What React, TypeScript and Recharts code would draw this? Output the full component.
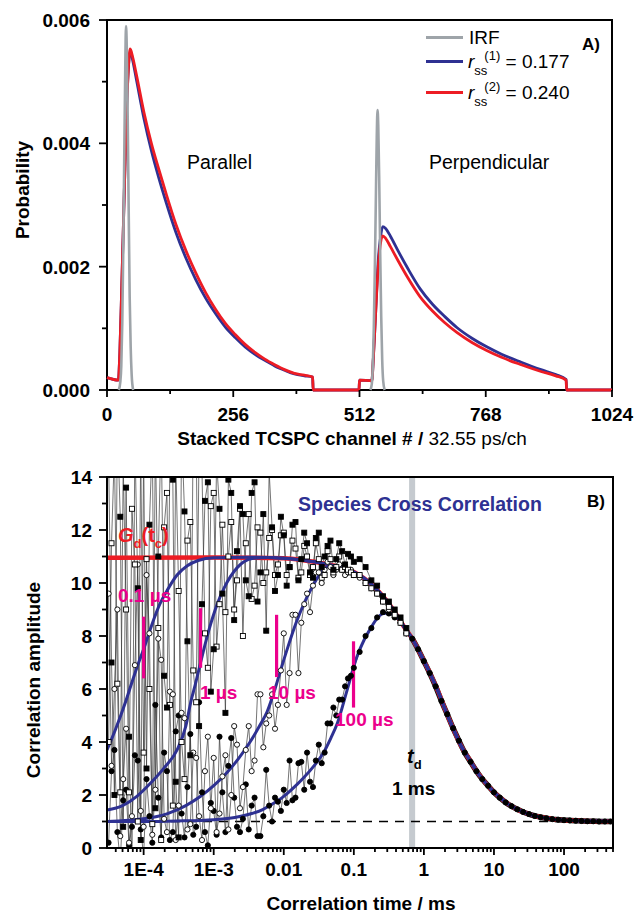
import React from 'react';
import { LineChart, Line, XAxis, YAxis, ReferenceLine, ReferenceArea } from 'recharts';

const FONT = 'Arial, "Liberation Sans", Helvetica, sans-serif';
const BLUE = '#2e3192';
const RED = '#ed1c24';
const GRAY = '#9ea4a9';
const MAGENTA = '#ec008c';

// ---------- Panel A: TCSPC decays ----------
const aXMajor = [0, 256, 512, 768, 1024];
const aXMinor = [128, 384, 640, 896];
const aXLabels = ['0', '256', '512', '768', '1024'];
const aYMajor = [0, 0.002, 0.004, 0.006];
const aYMinor = [0.001, 0.003, 0.005];
const aYLabels = ['0.000', '0.002', '0.004', '0.006'];

const irfParCh = [24, 27, 29, 31, 33, 35, 37, 38.5, 40, 42, 44, 46, 48, 50, 53];
const irfParP = [0, 0.00013, 0.0004, 0.0011, 0.0023, 0.0038, 0.0052, 0.0059, 0.0056, 0.0044, 0.0029, 0.0015, 0.0007, 0.00025, 0];
const irfPerpCh = [534, 537, 539, 541, 543, 545, 547, 548.5, 550, 552, 554, 556, 558, 560, 563];
const irfPerpP = [0, 0.0001, 0.0004, 0.001, 0.0019, 0.003, 0.0041, 0.00454, 0.0043, 0.0034, 0.0022, 0.0012, 0.0005, 0.00015, 0];

const decayCh = [0, 23, 26, 30, 35, 40, 44, 47, 52, 60, 75, 90, 105, 120, 140, 160, 180, 200, 220, 240,
  260, 280, 300, 320, 340, 360, 380, 400, 417, 418, 511, 512, 537, 540, 545, 550, 555, 559, 565, 575,
  590, 610, 635, 660, 685, 710, 740, 770, 800, 840, 880, 910, 931, 932, 1024];
const redP = [0.0002, 0.00016, 0.0006, 0.0017, 0.0032, 0.0046, 0.0053, 0.00553, 0.0054, 0.0051,
  0.0045, 0.004, 0.00358, 0.00318, 0.00268, 0.00226, 0.0019, 0.00158, 0.00131, 0.00108,
  0.0009, 0.00074, 0.00061, 0.0005, 0.00041, 0.00033, 0.00027, 0.00024, 0.00021, 0,
  0, 0.00016, 0.00015, 0.0005, 0.0013, 0.002, 0.0024, 0.0025, 0.00246, 0.00232,
  0.0021, 0.00182, 0.00151, 0.00128, 0.00109, 0.00093, 0.00077, 0.00064, 0.00053, 0.00041,
  0.0003, 0.00023, 0.00016, 0, 0];
const blueP = [0.0002, 0.00016, 0.0006, 0.0017, 0.0032, 0.0046, 0.0053, 0.0055, 0.00535, 0.00502,
  0.0044, 0.00388, 0.00344, 0.00304, 0.00255, 0.00214, 0.00179, 0.00149, 0.00124, 0.00102,
  0.00085, 0.0007, 0.00058, 0.00048, 0.00039, 0.00032, 0.00026, 0.00023, 0.00021, 0,
  0, 0.00016, 0.00015, 0.0005, 0.0013, 0.0021, 0.0025, 0.00265, 0.00262, 0.00249,
  0.00226, 0.00197, 0.00164, 0.00139, 0.00119, 0.00101, 0.00084, 0.0007, 0.00058, 0.00045,
  0.00033, 0.00025, 0.00017, 0, 0];

// ---------- Panel B: correlation curves ----------
const bXMajor = [1e-4, 1e-3, 0.01, 0.1, 1, 10, 100];
const bXLabels = ['1E-4', '1E-3', '0.01', '0.1', '1', '10', '100'];
const bXMinor = [4e-5, 5e-5, 6e-5, 7e-5, 8e-5, 9e-5,
  2e-4, 3e-4, 4e-4, 5e-4, 6e-4, 7e-4, 8e-4, 9e-4,
  2e-3, 3e-3, 4e-3, 5e-3, 6e-3, 7e-3, 8e-3, 9e-3,
  0.02, 0.03, 0.04, 0.05, 0.06, 0.07, 0.08, 0.09,
  0.2, 0.3, 0.4, 0.5, 0.6, 0.7, 0.8, 0.9,
  2, 3, 4, 5, 6, 7, 8, 9,
  20, 30, 40, 50, 60, 70, 80, 90,
  200, 300, 400, 500];
const bYMajor = [0, 2, 4, 6, 8, 10, 12, 14];
const bYMinor = [1, 3, 5, 7, 9, 11, 13];
const bYLabels = ['0', '2', '4', '6', '8', '10', '12', '14'];

// lag times (ms) of the measured correlation points
const lag = [
  3.16e-5, 3.48e-5, 3.83e-5, 4.22e-5, 4.64e-5, 5.11e-5, 5.62e-5, 6.19e-5, 6.81e-5, 7.5e-5, 8.25e-5, 9.09e-5,
  1e-4, 1.1e-4, 1.21e-4, 1.33e-4, 1.47e-4, 1.62e-4, 1.78e-4, 1.96e-4, 2.15e-4, 2.37e-4, 2.61e-4, 2.87e-4,
  3.16e-4, 3.48e-4, 3.83e-4, 4.22e-4, 4.64e-4, 5.11e-4, 5.62e-4, 6.19e-4, 6.81e-4, 7.5e-4, 8.25e-4, 9.09e-4,
  1e-3, 1.1e-3, 1.21e-3, 1.33e-3, 1.47e-3, 1.62e-3, 1.78e-3, 1.96e-3, 2.15e-3, 2.37e-3, 2.61e-3, 2.87e-3,
  3.16e-3, 3.48e-3, 3.83e-3, 4.22e-3, 4.64e-3, 5.11e-3, 5.62e-3, 6.19e-3, 6.81e-3, 7.5e-3, 8.25e-3, 9.09e-3,
  0.01, 0.011, 0.0121, 0.0133, 0.0147, 0.0162, 0.0178, 0.0196, 0.0215, 0.0237, 0.0261, 0.0287,
  0.0316, 0.0348, 0.0383, 0.0422, 0.0464, 0.0511, 0.0562, 0.0619, 0.0681, 0.075, 0.0825, 0.0909,
  0.1, 0.121, 0.147, 0.178, 0.215, 0.261, 0.316, 0.383, 0.464, 0.562];
const gFilledSq = [
  14.8, 7.0, 2.0, 16, 12.5, 0.8, 13.6, 4.2, -1, 15.5, 9.8, 0.3,
  15, 3.0, 12.2, 15.5, 1.5, 11.0, 16, 6.5, 5.3, 14.5, 13.9, 2.5,
  0.4, 15.8, 12.7, 7.8, 3.5, 16.2, 15.5, 4.6, 9.2, 13.1, 13.8, 5.9,
  7.5, 14.6, 12.8, 9.6, 5.1, 13.9, 13.4, 8.6, 11.2, 12.9, 12.6, 10.1,
  9.5, 13.4, 13.8, 9.3, 10.4, 12.6, 8.2, 14.2, 12.1, 9.7, 10.3, 12.5,
  11.8, 9.9, 10.6, 12.2, 12.3, 10.1, 10.9, 11.9, 11.5, 10.4, 10.2, 11.7,
  11.9, 10.6, 11.0, 11.4, 11.6, 10.5, 10.9, 11.5, 11.2, 10.7, 11.1, 11.0,
  10.8, 10.9, 10.6, 10.1, 9.9, 9.5, 9.3, 9.0, 8.7, 8.3];
const gOpenSq = [
  4.0, 11.5, 15, 6.2, 2.1, 14.5, 9.0, 2.1, 12.8, 10.7, 1.0, 15.2,
  3.6, 10.9, 6.0, 0.9, 15.5, 8.3, 0.3, 12.1, 13.4, 5.4, 1.6, 14.8,
  9.7, 4.0, 2.6, 11.6, 12.3, 6.7, 5.5, 15.1, 14.2, 8.1, 6.8, 12.9,
  13.4, 7.6, 9.2, 12.2, 8.9, 11.0, 12.3, 9.0, 10.1, 12.8, 8.0, 11.5,
  12.6, 9.4, 9.9, 12.1, 11.9, 10.0, 10.4, 11.7, 12.0, 10.3, 10.7, 11.8,
  11.9, 10.3, 10.6, 11.6, 11.3, 10.2, 10.4, 11.4, 11.0, 10.3, 10.6, 11.5,
  10.9, 10.2, 10.3, 11.2, 10.9, 10.4, 10.6, 11.0, 10.5, 10.6, 10.5, 10.4,
  10.3, 10.3, 10.0, 9.8, 9.6, 9.3, 9.1, 8.8, 8.5, 8.1];
const gOpenCirc = [
  9.6, 3.1, 6.0, 9.0, 0.45, 2.6, 4.5, 0.2, 1.2, 6.9, 10.7, 1.4,
  0.8, 10.3, 8.1, 0.5, 2.2, 7.9, 7.1, 1.1, 0.6, 5.9, 5.8, 0.3,
  1.6, 5.1, 4.9, 0.7, 0.9, 3.6, 3.4, 1.2, 0.3, 2.9, 4.2, 1.5,
  3.4, 0.6, 1.3, 2.7, 3.5, 0.7, 2.0, 4.6, 3.9, 1.5, 2.3, 3.7,
  4.6, 2.9, 3.3, 5.8, 5.8, 3.8, 4.7, 5.0, 5.8, 4.5, 5.4, 6.7,
  8.1, 5.4, 6.6, 8.8, 8.8, 6.6, 8.5, 9.2, 9.6, 8.9, 9.9, 10.4,
  10.4, 10.0, 10.5, 10.8, 10.6, 10.3, 10.5, 10.7, 10.5, 10.3, 10.4, 10.5,
  10.3, 10.2, 10.0, 9.8, 9.6, 9.3, 9.0, 8.8, 8.5, 8.1];
const gFilledCirc = [
  0.2, 2.9, 3.7, 0.6, -0.5, 1.8, 2.2, 0.1, 0.8, 3.5, 3.3, 0.7,
  -0.3, 2.6, 1.2, 0.2, 5.4, 1.9, 0.4, 3.6, 2.9, 0.3, 0.6, 4.4,
  5.0, 1.3, 0.4, 2.3, 4.3, 0.5, 0.8, 5.5, 2.1, 0.6, 0.1, 1.7,
  1.4, 0.5, 4.2, 2.1, 0.6, 3.1, 4.15, 1.9, 0.8, 0.6, 1.1, 2.4,
  0.7, 1.6, 1.9, 0.45, 0.45, 1.2, 2.95, 1.6, 1.0, 1.9, 1.75, 1.4,
  2.2, 1.7, 3.3, 1.8, 1.9, 3.2, 3.25, 2.2, 3.6, 2.5, 2.3, 3.3,
  3.9, 3.2, 3.6, 4.7, 4.7, 5.3, 5.0, 5.6, 5.6, 6.1, 6.4, 6.5,
  6.8, 7.4, 8.0, 8.3, 8.7, 8.9, 8.85, 8.7, 8.5, 8.1];

const tailT = [0.681, 0.825, 1.0, 1.21, 1.47, 1.78, 2.15, 2.61, 3.16, 3.83, 4.64, 5.62, 6.81, 8.25,
  10, 12.1, 14.7, 17.8, 21.5, 26.1, 31.6, 38.3, 46.4, 56.2, 68.1, 82.5, 100, 121, 147, 178, 215, 261, 316, 383, 464];
const tailG = [7.9, 7.5, 7.05, 6.6, 6.1, 5.55, 5.05, 4.52, 4.05, 3.6, 3.25, 2.9, 2.6, 2.35,
  2.1, 1.9, 1.72, 1.58, 1.46, 1.36, 1.28, 1.21, 1.16, 1.12, 1.09, 1.07, 1.05, 1.04, 1.03, 1.02, 1.01, 1.01, 1.0, 1.0, 1.0];

const fitDecayT = [0.05, 0.08, 0.12, 0.17, 0.24, 0.32, 0.41, 0.52, 0.7, 0.9, 1.22, 1.6, 2.1, 2.63, 3.4, 4.55,
  6, 7.9, 10.5, 13.6, 18, 23, 30, 40, 55, 70, 100, 150, 200, 300, 500];
const fitDecayG = [10.66, 10.52, 10.3, 10.0, 9.6, 9.2, 8.78, 8.35, 7.85, 7.3, 6.6, 5.9, 5.1, 4.5, 3.85, 3.3,
  2.8, 2.4, 2.05, 1.8, 1.57, 1.42, 1.3, 1.2, 1.13, 1.09, 1.05, 1.03, 1.02, 1.01, 1.0];
const rise1T = [3e-5, 4e-5, 5.5e-5, 7e-5, 8.5e-5, 1e-4, 1.3e-4, 1.7e-4, 2.2e-4, 3e-4, 4.2e-4, 6e-4, 1e-3, 3e-3, 0.01, 0.02, 0.035];
const rise1G = [3.7, 4.5, 5.5, 6.35, 7.0, 7.5, 8.4, 9.2, 9.75, 10.3, 10.65, 10.85, 10.95, 10.97, 10.93, 10.85, 10.75];
const rise2T = [3e-5, 5e-5, 8e-5, 1.26e-4, 2e-4, 3e-4, 4e-4, 4.7e-4, 5.5e-4, 6.5e-4, 8.5e-4, 1.12e-3, 1.4e-3, 1.74e-3,
  2.2e-3, 2.7e-3, 3.7e-3, 6e-3, 0.01, 0.02, 0.035];
const rise2G = [1.43, 1.6, 1.95, 2.45, 3.05, 3.7, 4.6, 5.5, 6.2, 7.0, 8.2, 9.2, 9.8, 10.25, 10.6, 10.8, 10.93, 10.96, 10.93, 10.85, 10.75];
const rise3T = [3e-5, 1e-4, 2.2e-4, 4e-4, 6.5e-4, 1e-3, 1.55e-3, 2.3e-3, 3.3e-3, 4.5e-3, 5.8e-3, 7.5e-3, 9e-3,
  0.0115, 0.015, 0.02, 0.026, 0.033, 0.042];
const rise3G = [1.0, 1.1, 1.3, 1.6, 1.95, 2.35, 2.85, 3.4, 4.0, 4.6, 5.15, 6.0, 6.7, 7.6, 8.5, 9.3, 9.9, 10.35, 10.62];
const rise4T = [3e-5, 1e-4, 3e-4, 1e-3, 2e-3, 3.5e-3, 5e-3, 6.5e-3, 0.01, 0.0155, 0.0192, 0.027, 0.037, 0.047,
  0.058, 0.08, 0.11, 0.14, 0.17, 0.22, 0.27, 0.33, 0.38];
const rise4G = [1.0, 1.0, 1.02, 1.07, 1.15, 1.3, 1.45, 1.62, 1.95, 2.4, 2.65, 3.1, 3.6, 4.15,
  4.7, 5.95, 7.2, 7.85, 8.25, 8.7, 8.86, 8.85, 8.8];
const gdT = [3e-5, 1e-3, 0.01, 0.02, 0.035];
const gdG = [10.95, 10.96, 10.93, 10.85, 10.75];

const markerT = [1e-4, 6.5e-4, 7.9e-3, 0.099];
const markerLow = [6.4, 6.8, 6.45, 5.3];
const markerHigh = [8.73, 9.05, 8.8, 7.8];

const zip = (xs: number[], ys: number[], xk: string, yk: string) =>
  xs.map((x, i) => ({ [xk]: x, [yk]: ys[i] }));
const withDecay = (ts: number[], gs: number[]) => [
  ...zip(ts, gs, 't', 'g'),
  ...zip(fitDecayT, fitDecayG, 't', 'g').filter((d: any) => d.t > ts[ts.length - 1]),
];

const XTick = (props: any) => {
  const { x, y, payload, majors, labels, labelDy } = props;
  const i = majors.indexOf(payload.value);
  return (
    <g>
      <line x1={x} x2={x} y1={y} y2={y + (i >= 0 ? 7 : 4)} stroke="#000" strokeWidth={1.8} />
      {i >= 0 && (
        <text x={x} y={y + labelDy} dy="0.71em" textAnchor="middle" fontFamily={FONT} fontWeight="bold" fontSize={19} fill="#000">
          {labels[i]}
        </text>
      )}
    </g>
  );
};

const YTick = (props: any) => {
  const { x, y, payload, majors, labels, labelDx } = props;
  const i = majors.indexOf(payload.value);
  return (
    <g>
      <line x1={x} x2={x - (i >= 0 ? 8 : 5)} y1={y} y2={y} stroke="#000" strokeWidth={1.8} />
      {i >= 0 && (
        <text x={x - labelDx} y={y} dy="0.36em" textAnchor="end" fontFamily={FONT} fontWeight="bold" fontSize={19} fill="#000">
          {labels[i]}
        </text>
      )}
    </g>
  );
};

const SqDot = (props: any) => {
  const { cx, cy, mfill } = props;
  if (cx == null || cy == null) return null;
  return <rect x={cx - 2.5} y={cy - 2.5} width={5} height={5} fill={mfill} stroke="#000" strokeWidth={0.9} />;
};
const CircDot = (props: any) => {
  const { cx, cy, mfill } = props;
  if (cx == null || cy == null) return null;
  return <circle cx={cx} cy={cy} r={2.6} fill={mfill} stroke="#000" strokeWidth={0.9} />;
};

const Txt = ({ x, y, size = 19, bold = false, color = '#000', anchor = 'left', rotate = false, children }: any) => (
  <div
    style={{
      position: 'absolute',
      left: x,
      top: y,
      fontFamily: FONT,
      fontSize: size,
      fontWeight: bold ? 'bold' : 'normal',
      color,
      lineHeight: 1,
      whiteSpace: 'nowrap',
      transform: `${anchor === 'center' ? 'translate(-50%, -50%)' : 'translate(0, -50%)'}${rotate ? ' rotate(-90deg)' : ''}`,
    }}
  >
    {children}
  </div>
);

const LegendLine = ({ y, color }: any) => (
  <div style={{ position: 'absolute', left: 426, top: y - 1.5, width: 37, height: 3, background: color }} />
);

const Rss = ({ n, v }: any) => (
  <span>
    <i>r</i>
    <span style={{ fontSize: 13, position: 'relative', top: 7 }}>ss</span>
    <span style={{ fontSize: 13, position: 'relative', top: -8, marginLeft: -3 }}>({n})</span>
    <span> = {v}</span>
  </span>
);

const noisy = { type: 'linear' as const, stroke: '#3a3a3a', strokeWidth: 0.7, activeDot: false, isAnimationActive: false };

export default function App() {
  const redData = zip(decayCh, redP, 'ch', 'p');
  const blueData = zip(decayCh, blueP, 'ch', 'p');
  const irfPar = zip(irfParCh, irfParP, 'ch', 'p');
  const irfPerp = zip(irfPerpCh, irfPerpP, 'ch', 'p');

  const fsData = zip(lag, gFilledSq, 't', 'g');
  const osData = zip(lag, gOpenSq, 't', 'g');
  const ocData = zip(lag, gOpenCirc, 't', 'g');
  const fcData = zip(lag, gFilledCirc, 't', 'g');
  const tailData = zip(tailT, tailG, 't', 'g');

  return (
    <div style={{ position: 'absolute', left: 0, top: 0, width: 638, height: 912, background: '#fff', fontFamily: FONT, overflow: 'hidden' }}>
      {/* frame A under the chart */}
      <div style={{ position: 'absolute', left: 106, top: 19, width: 507, height: 372, border: '2px solid #000', boxSizing: 'border-box' }} />
      <div style={{ position: 'absolute', left: 0, top: 0 }}>
        <LineChart width={638} height={440} margin={{ top: 20, right: 26, left: 0, bottom: 0 }}>
          <XAxis
            type="number"
            dataKey="ch"
            domain={[0, 1024]}
            ticks={[...aXMajor, ...aXMinor]}
            interval={0}
            height={50}
            axisLine={false}
            tickLine={false}
            tickSize={0}
            tickMargin={0}
            tick={<XTick majors={aXMajor} labels={aXLabels} labelDy={18} />}
          />
          <YAxis
            type="number"
            domain={[0, 0.006]}
            ticks={[...aYMajor, ...aYMinor]}
            interval={0}
            width={107}
            axisLine={false}
            tickLine={false}
            tickSize={0}
            tickMargin={0}
            tick={<YTick majors={aYMajor} labels={aYLabels} labelDx={17} />}
          />
          <Line data={blueData} dataKey="p" type="monotone" stroke={BLUE} strokeWidth={2.8} dot={false} activeDot={false} isAnimationActive={false} />
          <Line data={redData} dataKey="p" type="monotone" stroke={RED} strokeWidth={2.8} dot={false} activeDot={false} isAnimationActive={false} />
          <Line data={irfPar} dataKey="p" type="monotone" stroke={GRAY} strokeWidth={2.6} dot={false} activeDot={false} isAnimationActive={false} />
          <Line data={irfPerp} dataKey="p" type="monotone" stroke={GRAY} strokeWidth={2.6} dot={false} activeDot={false} isAnimationActive={false} />
        </LineChart>
      </div>

      <Txt x={22} y={190} bold anchor="center" rotate>Probability</Txt>
      <Txt x={352} y={438} anchor="center"><b>Stacked TCSPC channel # / </b>32.55 ps/ch</Txt>
      <Txt x={187} y={163} size={19.5}>Parallel</Txt>
      <Txt x={429} y={163} size={19.5}>Perpendicular</Txt>
      <LegendLine y={37} color={GRAY} />
      <LegendLine y={61} color={BLUE} />
      <LegendLine y={92} color={RED} />
      <Txt x={469} y={37}>IRF</Txt>
      <Txt x={468} y={61}><Rss n={1} v="0.177" /></Txt>
      <Txt x={468} y={92}><Rss n={2} v="0.240" /></Txt>
      <Txt x={582} y={44} size={17} bold>A)</Txt>

      <div style={{ position: 'absolute', left: 0, top: 450 }}>
        <LineChart width={638} height={462} margin={{ top: 27, right: 25, left: 0, bottom: 0 }}>
          <XAxis
            type="number"
            dataKey="t"
            scale="log"
            domain={[3e-5, 500]}
            allowDataOverflow
            ticks={[...bXMajor, ...bXMinor]}
            interval={0}
            height={64}
            axisLine={false}
            tickLine={false}
            tickSize={0}
            tickMargin={0}
            tick={<XTick majors={bXMajor} labels={bXLabels} labelDy={15} />}
          />
          <YAxis
            type="number"
            domain={[0, 14]}
            allowDataOverflow
            ticks={[...bYMajor, ...bYMinor]}
            interval={0}
            width={107}
            axisLine={false}
            tickLine={false}
            tickSize={0}
            tickMargin={0}
            tick={<YTick majors={bYMajor} labels={bYLabels} labelDx={15} />}
          />
          <ReferenceArea x1={0.615} x2={0.75} y1={0} y2={14} fill="#c5cacf" fillOpacity={1} stroke="none" />
          <ReferenceLine y={1} stroke="#000" strokeWidth={1.5} strokeDasharray="9 7" />
          <Line data={fcData} dataKey="g" {...noisy} dot={<CircDot mfill="#000" />} />
          <Line data={ocData} dataKey="g" {...noisy} dot={<CircDot mfill="#fff" />} />
          <Line data={osData} dataKey="g" {...noisy} dot={<SqDot mfill="#fff" />} />
          <Line data={fsData} dataKey="g" {...noisy} dot={<SqDot mfill="#000" />} />
          <Line data={tailData} dataKey="g" type="monotone" stroke="#111" strokeWidth={5.5} dot={<CircDot mfill="#000" />} activeDot={false} isAnimationActive={false} />
          <Line data={withDecay(gdT, gdG)} dataKey="g" type="monotone" stroke={RED} strokeWidth={4.5} dot={false} activeDot={false} isAnimationActive={false} />
          <Line data={withDecay(rise1T, rise1G)} dataKey="g" type="monotone" stroke={BLUE} strokeWidth={3} dot={false} activeDot={false} isAnimationActive={false} />
          <Line data={withDecay(rise2T, rise2G)} dataKey="g" type="monotone" stroke={BLUE} strokeWidth={3} dot={false} activeDot={false} isAnimationActive={false} />
          <Line data={withDecay(rise3T, rise3G)} dataKey="g" type="monotone" stroke={BLUE} strokeWidth={3} dot={false} activeDot={false} isAnimationActive={false} />
          <Line data={withDecay(rise4T, rise4G)} dataKey="g" type="monotone" stroke={BLUE} strokeWidth={3} dot={false} activeDot={false} isAnimationActive={false} />
          {markerT.map((t, i) => (
            <ReferenceLine
              key={i}
              segment={[{ x: t, y: markerLow[i] }, { x: t, y: markerHigh[i] }]}
              stroke={MAGENTA}
              strokeWidth={3.2}
            />
          ))}
        </LineChart>
      </div>
      {/* frame B over the chart */}
      <div style={{ position: 'absolute', left: 106, top: 476, width: 508, height: 373, border: '2px solid #000', boxSizing: 'border-box' }} />

      <Txt x={33} y={680} bold anchor="center" rotate>Correlation amplitude</Txt>
      <Txt x={361} y={903} bold anchor="center">Correlation time / ms</Txt>
      <Txt x={587} y={501} size={17} bold>B)</Txt>
      <Txt x={298} y={505} size={19.5} bold color={BLUE}>Species Cross Correlation</Txt>
      <Txt x={118} y={535} size={20} bold color={RED}>
        <i>G</i>
        <span style={{ fontSize: 13, position: 'relative', top: 6 }}>d</span>(t
        <span style={{ fontSize: 13, position: 'relative', top: 6 }}>c</span>)
      </Txt>
      <Txt x={118} y={595} bold color={MAGENTA}>0.1 µs</Txt>
      <Txt x={200} y={692} bold color={MAGENTA}>1 µs</Txt>
      <Txt x={268} y={692} bold color={MAGENTA}>10 µs</Txt>
      <Txt x={335} y={719} bold color={MAGENTA}>100 µs</Txt>
      <Txt x={407} y={756} size={20} bold>
        <i>t</i>
        <span style={{ fontSize: 13, position: 'relative', top: 6 }}>d</span>
      </Txt>
      <Txt x={392} y={788} bold>1 ms</Txt>
    </div>
  );
}
